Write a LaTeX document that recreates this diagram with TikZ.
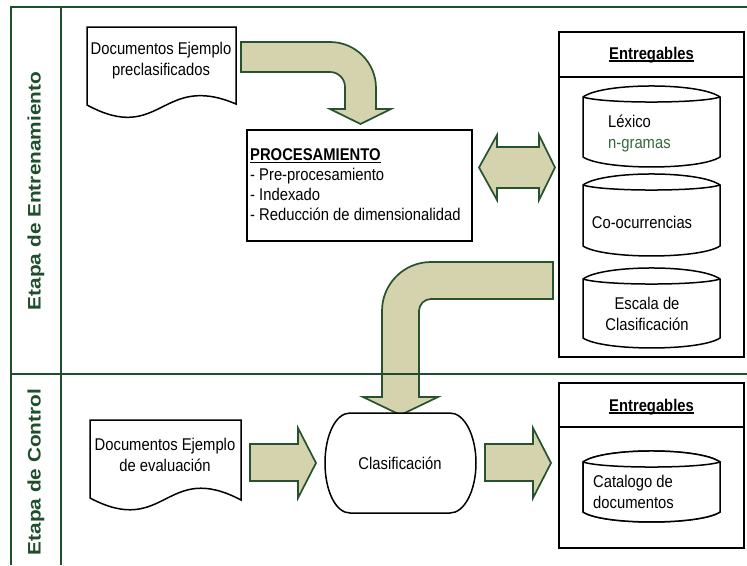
\documentclass[tikz,border=0pt]{standalone}
\usepackage{fontspec}
\setmainfont{Liberation Sans}[FakeStretch=0.87]
\newfontfamily\lanefont{Liberation Sans}[FakeStretch=1.15]
\definecolor{lanegreen}{RGB}{31,78,44}
\definecolor{arrowline}{RGB}{38,82,45}
\definecolor{arrowfill}{RGB}{212,211,173}
\definecolor{textgreen}{RGB}{52,104,60}
% underline sitting just below the baseline
\newcommand\undl[1]{\setbox0\hbox{#1}\rlap{\rule[-2.2pt]{\wd0}{1.1pt}}\box0}
\begin{document}
\begin{tikzpicture}[x=1pt,y=-1pt,
  frameline/.style={draw=lanegreen,line width=2pt},
  blockarrow/.style={draw=arrowline,fill=arrowfill,line width=1.7pt,line join=miter},
  outline/.style={draw=black,fill=white,line width=1.5pt},
  txt/.style={font=\fontsize{17}{21}\selectfont,inner sep=0pt,align=center},
  lanelabel/.style={font=\lanefont\bfseries\fontsize{18.1}{22}\selectfont,text=lanegreen,rotate=90,inner sep=0pt}]
\useasboundingbox (0,0) rectangle (747,565);
\fill[white] (0,0) rectangle (747,565);

% swimlane frame
\draw[frameline] (11,565) -- (11,7) -- (747,7);
\draw[frameline] (61,7) -- (61,565);
\node[lanelabel] (lane1) at (36,191) {Etapa de Entrenamiento};
\node[lanelabel] (lane2) at (36,472) {Etapa de Control};

% --- training stage ---
% input document
\draw[outline] (87,27) -- (236,27) -- (236,104)
  .. controls (161,72) and (161,145) .. (87,105) -- cycle;
\node[txt] (doc1) at (161,61) {Documentos Ejemplo\\preclasificados};

% bent arrow into processing
\draw[blockarrow] (241,42) -- (330,42) .. controls (355.4,42) and (376,62.6) .. (376,88)
  -- (376,109) -- (391,109) -- (360.5,124) -- (330,109) -- (345,109) -- (345,87)
  .. controls (345,78.7) and (338.3,72) .. (330,72) -- (241,72) -- cycle;

% processing box
\draw[outline] (247,130) rectangle (472,241);
\node[txt,align=left,anchor=west,font=\fontsize{17}{20}\selectfont] (proc) at (250,185)
  {\textbf{\undl{PROCESAMIENTO}}\\- Pre-procesamiento\\- Indexado\\- Reducción de dimensionalidad};

% two-way arrow
\draw[blockarrow] (479,167.5) -- (497,135) -- (497,147) -- (539,147) -- (539,135)
  -- (555,167.5) -- (539,200) -- (539,188) -- (497,188) -- (497,200) -- cycle;

% deliverables of the training stage
\draw[outline] (559,32) rectangle (744,357);
\draw[black,line width=1.5pt] (559,77) -- (744,77);
\node[txt,font=\bfseries\fontsize{17}{21}\selectfont] (ent1) at (651.5,55) {\undl{Entregables}};

\foreach \ys/\yb/\nm in {97/157/cylA,185/246/cylB,279/338/cylC,462/512/cylD}{
  \draw[outline] (583,\ys) .. controls (603,\ys-14.7) and (700,\ys-14.7) .. (720,\ys)
    -- (720,\yb) .. controls (700,\yb+13.3) and (603,\yb+13.3) .. (583,\yb) -- cycle;
  \draw[black,line width=1.5pt] (583,\ys) .. controls (603,\ys+6.7) and (700,\ys+6.7) .. (720,\ys);
}
\node[txt,align=left,anchor=west] (lex) at (608,134) {Léxico\\\textcolor{textgreen}{n-gramas}};
\node[txt] (cooc) at (642,222) {Co-ocurrencias};
\node[txt] (esc) at (647,314) {Escala de\\Clasificación};

% bent arrow from the deliverables down to classification
\draw[blockarrow] (553,262) -- (431,262) .. controls (403.9,262) and (382,283.9) .. (382,311)
  -- (382,397) -- (363,397) -- (400.5,415) -- (438,397) -- (419,397) -- (419,311)
  .. controls (419,304.4) and (424.4,299) .. (431,299) -- (553,299) -- cycle;

% lane divider
\draw[frameline] (11,374) -- (747,374);

% --- control stage ---
\draw[outline] (90,420) -- (241,420) -- (241,500)
  .. controls (165.5,460) and (165.5,538) .. (90,498) -- cycle;
\node[txt] (doc2) at (165,455) {Documentos Ejemplo\\de evaluación};

\draw[blockarrow] (250,444) -- (298,444) -- (298,428) -- (316,463) -- (298,498)
  -- (298,481) -- (250,481) -- cycle;

% classification terminator
\draw[outline] (350,413) -- (450,413) .. controls (464.4,413) and (476,435.4) .. (476,463)
  .. controls (476,490.6) and (464.4,513) .. (450,513) -- (350,513)
  .. controls (335.6,513) and (325,490.6) .. (325,463)
  .. controls (325,435.4) and (335.6,413) .. (350,413) -- cycle;
\node[txt] (clas) at (400,463) {Clasificación};

\draw[blockarrow] (485,444) -- (533,444) -- (533,428) -- (551,463) -- (533,498)
  -- (533,481) -- (485,481) -- cycle;

% deliverables of the control stage
\draw[outline,fill=none] (559,383) rectangle (744,548);
\draw[black,line width=1.5pt] (559,427) -- (744,427);
\node[txt,font=\bfseries\fontsize{17}{21}\selectfont] (ent2) at (651.5,407) {\undl{Entregables}};
\draw[outline] (583,462) .. controls (603,447.3) and (700,447.3) .. (720,462)
  -- (720,512) .. controls (700,525.3) and (603,525.3) .. (583,512) -- cycle;
\draw[black,line width=1.5pt] (583,462) .. controls (603,468.7) and (700,468.7) .. (720,462);
\node[txt,align=left,anchor=west] (cat) at (593,492) {Catalogo de\\documentos};
\end{tikzpicture}
\end{document}
